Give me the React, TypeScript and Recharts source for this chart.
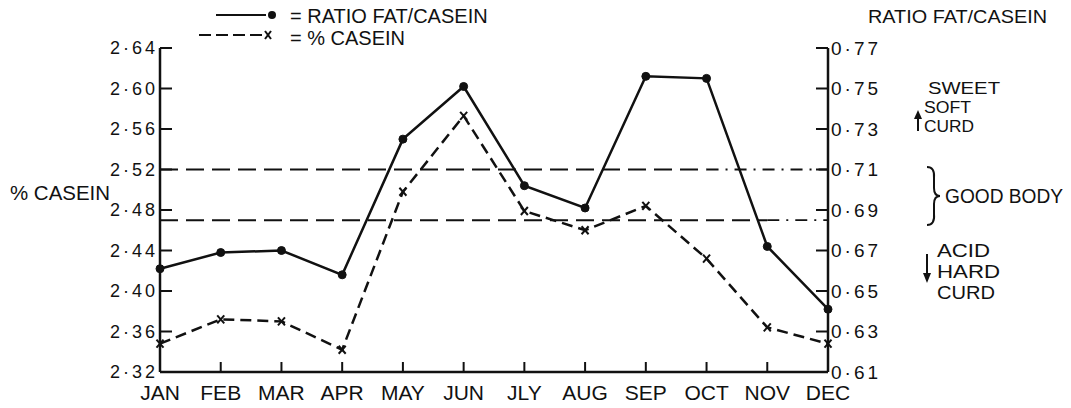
import { LineChart, Line, XAxis, YAxis, ReferenceLine } from "recharts";

const months = ["JAN", "FEB", "MAR", "APR", "MAY", "JUN", "JLY", "AUG", "SEP", "OCT", "NOV", "DEC"];
// right axis: ratio fat / casein
const ratioFatCasein = [0.661, 0.669, 0.67, 0.658, 0.725, 0.751, 0.702, 0.691, 0.756, 0.755, 0.672, 0.641];
// left axis: % casein
const caseinPct = [2.348, 2.372, 2.37, 2.342, 2.498, 2.573, 2.479, 2.46, 2.484, 2.432, 2.364, 2.348];
const caseinTicks = [2.32, 2.36, 2.4, 2.44, 2.48, 2.52, 2.56, 2.6, 2.64];
const ratioTicks = [0.61, 0.63, 0.65, 0.67, 0.69, 0.71, 0.73, 0.75, 0.77];
// "good body" band, drawn on the % casein scale
const goodBodyUpper = 2.52;
const goodBodyLower = 2.47;

const data = months.map((m, i) => ({
  month: m,
  ratio: ratioFatCasein[i],
  casein: caseinPct[i],
}));

const FONT = "'Liberation Sans', Arial, sans-serif";
const INK = "#111";

const fmt = (v: number) => v.toFixed(2).replace(".", "·");

function LeftTick(props: any) {
  const { x, y, payload, index } = props;
  return (
    <g>
      {index !== 0 && <line x1={x} x2={x + 12} y1={y} y2={y} stroke={INK} strokeWidth={2} />}
      <text x={x - 2} y={y} textAnchor="end" dominantBaseline="central" fontSize={18} letterSpacing={3} fill={INK} fontFamily={FONT}>
        {fmt(payload.value)}
      </text>
    </g>
  );
}

function RightTick(props: any) {
  const { x, y, payload, index } = props;
  return (
    <g>
      {index !== 0 && <line x1={x - 12} x2={x} y1={y} y2={y} stroke={INK} strokeWidth={2} />}
      <text x={x + 3} y={y} textAnchor="start" dominantBaseline="central" fontSize={19} letterSpacing={3} fill={INK} fontFamily={FONT}>
        {fmt(payload.value)}
      </text>
    </g>
  );
}

function MonthTick(props: any) {
  const { x, y, payload, index } = props;
  const edge = index === 0 || index === months.length - 1;
  return (
    <g>
      {!edge && <line x1={x} x2={x} y1={y} y2={y - 10} stroke={INK} strokeWidth={2} />}
      <text x={x} y={y + 20} textAnchor="middle" dominantBaseline="central" fontSize={21} fill={INK} fontFamily={FONT}>
        {payload.value}
      </text>
    </g>
  );
}

function CrossDot(props: any) {
  const { cx, cy, index } = props;
  if (cx == null || cy == null) return <g key={index} />;
  return (
    <g key={index}>
      <line x1={cx - 3.5} y1={cy - 4} x2={cx + 3.5} y2={cy + 4} stroke={INK} strokeWidth={2} />
      <line x1={cx + 3.5} y1={cy - 4} x2={cx - 3.5} y2={cy + 4} stroke={INK} strokeWidth={2} />
    </g>
  );
}

function Notes() {
  const t = { fontFamily: FONT, fill: INK, dominantBaseline: "central" as const, lengthAdjust: "spacingAndGlyphs" };
  return (
    <svg width={1071} height={408} style={{ position: "absolute", left: 0, top: 0, pointerEvents: "none" }}>
      {/* legend */}
      <line x1={216} x2={266} y1={15} y2={15} stroke={INK} strokeWidth={2} />
      <circle cx={272} cy={15} r={4} fill={INK} />
      <text x={290} y={16} fontSize={20} {...t}>= RATIO FAT/CASEIN</text>
      <line x1={199} x2={266} y1={35} y2={35} stroke={INK} strokeWidth={2} strokeDasharray="12 5" />
      <line x1={265} y1={31} x2={271} y2={39} stroke={INK} strokeWidth={2} />
      <line x1={271} y1={31} x2={265} y2={39} stroke={INK} strokeWidth={2} />
      <text x={290} y={38} fontSize={20} {...t}>= % CASEIN</text>

      {/* axis titles */}
      <text x={10} y={192} fontSize={21} textLength={100} {...t}>% CASEIN</text>
      <text x={868} y={17} fontSize={18} textLength={179} {...t}>RATIO FAT/CASEIN</text>

      {/* sweet / soft curd */}
      <text x={928} y={88} fontSize={16} textLength={72} {...t}>SWEET</text>
      <text x={924} y={107} fontSize={16} textLength={47} {...t}>SOFT</text>
      <text x={924} y={126} fontSize={16} textLength={50} {...t}>CURD</text>
      <line x1={918} x2={918} y1={131} y2={114} stroke={INK} strokeWidth={2} />
      <path d="M 914 119 L 918 110 L 922 119 Z" fill={INK} />

      {/* good body */}
      <path
        d="M 927 167 Q 935 167 934 178 L 934 188 Q 934 196 940 196 Q 934 196 934 204 L 934 214 Q 935 225 927 225"
        fill="none"
        stroke={INK}
        strokeWidth={2}
      />
      <text x={945} y={196} fontSize={20} textLength={118} {...t}>GOOD BODY</text>

      {/* acid / hard curd */}
      <text x={937} y={251} fontSize={18} textLength={53} {...t}>ACID</text>
      <text x={937} y={272} fontSize={18} textLength={63} {...t}>HARD</text>
      <text x={937} y={293} fontSize={18} textLength={58} {...t}>CURD</text>
      <line x1={927} x2={927} y1={254} y2={278} stroke={INK} strokeWidth={2} />
      <path d="M 923 273 L 927 283 L 931 273 Z" fill={INK} />
    </svg>
  );
}

export default function App() {
  return (
    <div style={{ position: "absolute", left: 0, top: 0, width: 1071, height: 408, background: "#fff" }}>
      <LineChart width={1071} height={408} data={data} margin={{ top: 48, right: 183, bottom: 6, left: 100 }}>
        <XAxis
          dataKey="month"
          interval={0}
          height={30}
          tickSize={0}
          tickMargin={0}
          tickLine={false}
          tick={MonthTick}
          axisLine={{ stroke: INK, strokeWidth: 2.5 }}
        />
        <YAxis
          yAxisId="left"
          orientation="left"
          type="number"
          width={60}
          domain={[2.32, 2.64]}
          ticks={caseinTicks}
          interval={0}
          tickSize={0}
          tickMargin={0}
          tickLine={false}
          tick={LeftTick}
          axisLine={{ stroke: INK, strokeWidth: 2.5 }}
        />
        <YAxis
          yAxisId="right"
          orientation="right"
          type="number"
          width={60}
          domain={[0.61, 0.77]}
          ticks={ratioTicks}
          interval={0}
          tickSize={0}
          tickMargin={0}
          tickLine={false}
          tick={RightTick}
          axisLine={{ stroke: INK, strokeWidth: 2.5 }}
        />

        {/* good body limits: dashed, then dash-dot near the right axis */}
        <ReferenceLine
          yAxisId="left"
          segment={[{ x: "JAN", y: goodBodyUpper }, { x: "OCT", y: goodBodyUpper }]}
          stroke={INK}
          strokeWidth={2}
          strokeDasharray="18 8"
        />
        <ReferenceLine
          yAxisId="left"
          segment={[{ x: "OCT", y: goodBodyUpper }, { x: "DEC", y: goodBodyUpper }]}
          stroke={INK}
          strokeWidth={1.8}
          strokeDasharray="12 7 2 7"
        />
        <ReferenceLine
          yAxisId="left"
          segment={[{ x: "JAN", y: goodBodyLower }, { x: "NOV", y: goodBodyLower }]}
          stroke={INK}
          strokeWidth={2}
          strokeDasharray="18 8"
        />
        <ReferenceLine
          yAxisId="left"
          segment={[{ x: "NOV", y: goodBodyLower }, { x: "DEC", y: goodBodyLower }]}
          stroke={INK}
          strokeWidth={1.8}
          strokeDasharray="12 7 2 7"
        />

        <Line
          yAxisId="right"
          dataKey="ratio"
          stroke={INK}
          strokeWidth={2.5}
          dot={{ r: 4, fill: INK, stroke: INK, strokeWidth: 1 }}
          isAnimationActive={false}
        />
        <Line
          yAxisId="left"
          dataKey="casein"
          stroke={INK}
          strokeWidth={2.5}
          strokeDasharray="11 6"
          dot={CrossDot}
          isAnimationActive={false}
        />
      </LineChart>
      <Notes />
    </div>
  );
}
